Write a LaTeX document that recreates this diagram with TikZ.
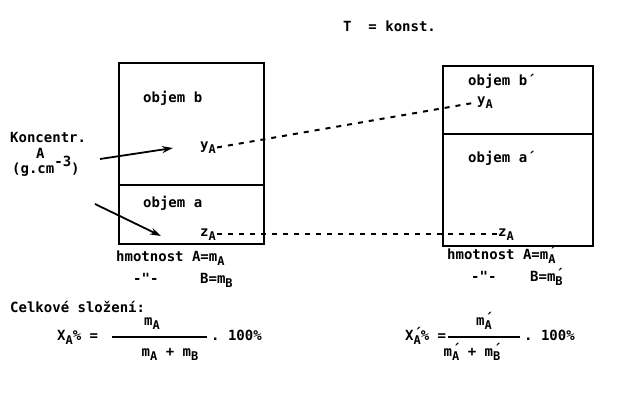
\documentclass[tikz,border=0pt]{standalone}
\usepackage{fontspec}
\setmonofont{DejaVu Sans Mono}[BoldFont={* Bold}]
\usetikzlibrary{arrows.meta}
\newcommand{\sbs}[1]{\raisebox{-0.6ex}{\fontsize{12}{12}\selectfont #1}}
\newcommand{\prm}{\rlap{\raisebox{0.2ex}{´}}}
\begin{document}
\begin{tikzpicture}[x=1pt,y=-1pt,
  txt/.style={font=\ttfamily\bfseries\fontsize{14}{16}\selectfont, inner sep=0pt, anchor=base west},
  tc/.style={txt, anchor=base},
  box/.style={draw, line width=2.5pt},
  dline/.style={line width=2pt, dash pattern=on 5pt off 6pt},
  arr/.style={-{Stealth[length=11pt,width=7pt]}, line width=1.8pt}]
\useasboundingbox (0,0) rectangle (632,394);

% title
\node[txt] (tk) at (343,31) {T~~= konst.};

% left box
\draw[box] (119,63) rectangle (264,244);
\draw[box] (119,185) -- (264,185);
% right box
\draw[box] (443,66) rectangle (593,246);
\draw[box] (443,134) -- (593,134);

% left box texts
\node[txt] (ob) at (143,102) {objem b};
\node[txt] (oa) at (143,207) {objem a};
\node[txt, inner sep=1pt] (yAl) at (199,149) {y\sbs{A}};
\node[txt, inner sep=1pt] (zAl) at (199,236) {z\sbs{A}};

% concentration label
\node[txt] (konc) at (10,142) {Koncentr.};
\node[txt] (kA) at (36,158) {A};
\node[txt] (kgc) at (12,173) {(g.cm\raisebox{0.8ex}{-3})};
\coordinate (a1s) at (100,159);
\coordinate (a1e) at (173,148);
\coordinate (a2s) at (95,204);
\coordinate (a2e) at (161,236);
\draw[arr] (a1s) -- (a1e);
\draw[arr] (a2s) -- (a2e);

% right box texts
\node[txt] (obr) at (468,85) {objem b´};
\node[txt, inner sep=1pt] (yAr) at (476,104) {y\sbs{A}};
\node[txt] (oar) at (468,162) {objem a´};
\node[txt, inner sep=1pt] (zAr) at (497,236) {z\sbs{A}};

% dashed connectors
\draw[dline] (yAl.east) -- (yAr.west);
\draw[dline] (zAl.east) -- (zAr.west);

% masses
\node[txt] (hl) at (116,261) {hmotnost A=m\sbs{A}};
\node[txt] (dl) at (133,283) {-"-};
\node[txt] (bl) at (200,283) {B=m\sbs{B}};
\node[txt] (hr) at (447,259) {hmotnost A=m\prm\sbs{A}};
\node[txt] (dr) at (471,281) {-"-};
\node[txt] (br) at (530,281) {B=m\prm\sbs{B}};

% composition
\node[txt] (cs) at (10,312) {Celkové složení:};

% left formula
\node[txt] (xl) at (57,340) {X\sbs{A}\% =};
\coordinate (fl1) at (112,337);
\coordinate (fl2) at (207,337);
\draw[line width=1.6pt] (fl1) -- (fl2);
\node[tc] (nl) at (152,325) {m\sbs{A}};
\node[tc] (denl) at (170,356) {m\sbs{A} + m\sbs{B}};
\node[txt] (pl) at (211,340) {. 100\%};

% right formula
\node[txt] (xr) at (405,340) {X\prm\sbs{A}\% =};
\coordinate (fr1) at (448,337);
\coordinate (fr2) at (520,337);
\draw[line width=1.6pt] (fr1) -- (fr2);
\node[tc] (nr) at (484,325) {m\prm\sbs{A}};
\node[tc] (denr) at (472,356) {m\prm\sbs{A} + m\prm\sbs{B}};
\node[txt] (pr) at (524,340) {. 100\%};
\end{tikzpicture}
\end{document}
